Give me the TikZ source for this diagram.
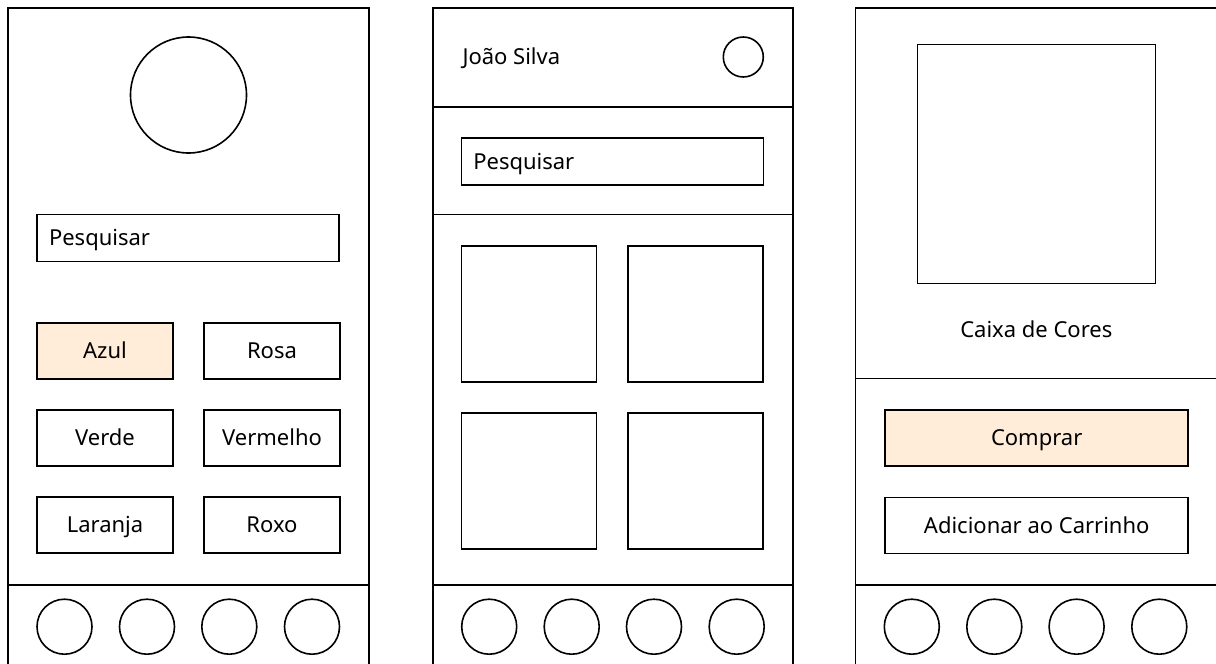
\documentclass[tikz,border=0pt]{standalone}
\usepackage{fontspec}
\setmainfont{Noto Sans}
\definecolor{destaque}{HTML}{FFECD9}

\begin{document}
\begin{tikzpicture}[x=1pt,y=-1pt,line width=1.6pt,
  rotulo/.style={font=\fontsize{22}{26}\selectfont,text height=15.8pt,text depth=0pt},
  botao/.style={draw,rectangle,rotulo,inner sep=0pt,minimum width=136pt,minimum height=56pt},
  busca/.style={draw,rectangle,rotulo,inner ysep=0pt,inner xsep=12pt,text width=278pt,minimum height=47pt,align=left},
  foto/.style={draw,rectangle,inner sep=0pt,minimum width=135pt,minimum height=136pt},
  icone/.style={draw,circle,inner sep=0pt,minimum size=55pt}]
  \useasboundingbox (0,0) rectangle (1216,664);
  \clip (0,0) rectangle (1216,664);
  % tela 1: cores
  \draw (8,8) rectangle (369,690);
  \draw (8,585)--(369,585);
  \node[draw,circle,inner sep=0pt,minimum size=116pt] (logo) at (188.5,95) {};
  \node[busca] (busca1) at (188,238) {Pesquisar};
  \node[botao,fill=destaque] (azul) at (105,351) {Azul};
  \node[botao] (rosa) at (272,351) {Rosa};
  \node[botao] (verde) at (105,438) {Verde};
  \node[botao] (vermelho) at (272,438) {Vermelho};
  \node[botao] (laranja) at (105,525) {Laranja};
  \node[botao] (roxo) at (272,525) {Roxo};
  % tela 2: lista
  \draw (432.7,8) rectangle (793,690);
  \draw (432.7,106.7)--(793,106.7);
  \draw (432.7,214.3)--(793,214.3);
  \draw (432.7,585)--(793,585);
  \node[rotulo,anchor=west,inner sep=0pt] (usuario) at (461.7,57) {João Silva};
  \node[draw,circle,inner sep=0pt,minimum size=40pt] (perfil) at (743.3,57) {};
  \node[busca] (busca2) at (612.3,161.7) {Pesquisar};
  \node[foto] (foto1) at (529,314) {};
  \node[foto] (foto2) at (695.7,314) {};
  \node[foto] (foto3) at (529,481) {};
  \node[foto] (foto4) at (695.7,481) {};
  % tela 3: produto
  \draw (855.3,8) rectangle (1220,690);
  \draw (855.3,378.5)--(1220,378.5);
  \draw (855.3,585)--(1220,585);
  \node[draw,rectangle,inner sep=0pt,minimum width=238pt,minimum height=239pt] (produto) at (1036.3,163.8) {};
  \node[rotulo,inner sep=0pt] (nome) at (1036.3,330) {Caixa de Cores};
  \node[botao,minimum width=303pt,fill=destaque] (comprar) at (1036.7,438) {Comprar};
  \node[botao,minimum width=303pt] (carrinho) at (1036.7,525.3) {Adicionar ao Carrinho};
  % barra de navegacao
  \foreach \t/\x in {a/8,b/432.7,c/855.3}
    \foreach \i/\dx in {1/56.5,2/139,3/221.3,4/304}
      \node[icone] (nav\t\i) at (\x+\dx,626.7) {};
\end{tikzpicture}
\end{document}
